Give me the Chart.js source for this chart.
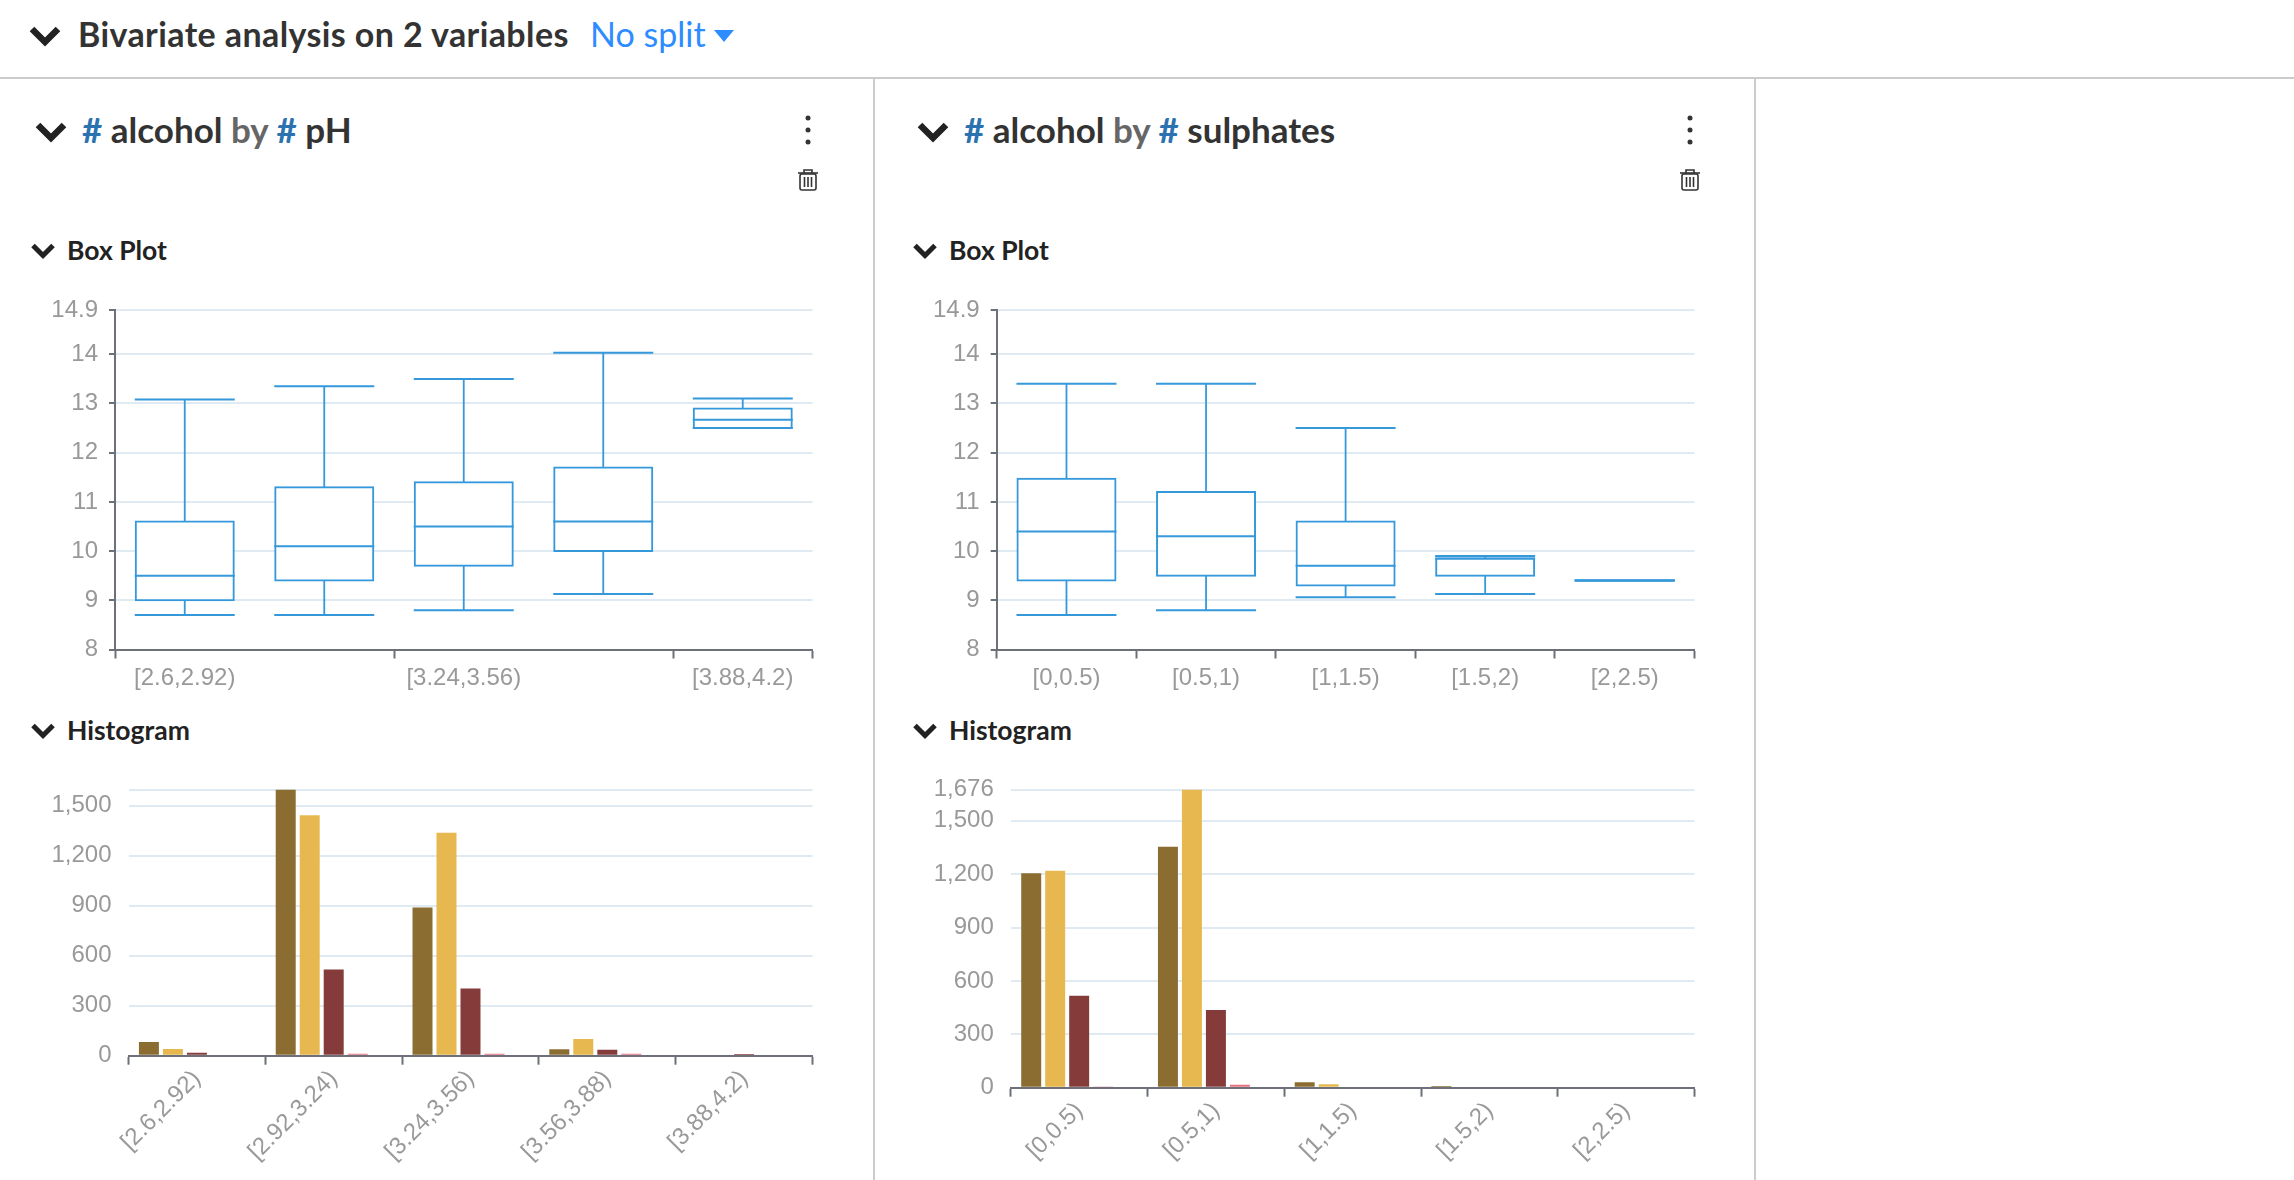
<!DOCTYPE html>
<html>
<head>
<meta charset="utf-8">
<script src="https://cdn.jsdelivr.net/npm/chart.js"></script>
<style>
  html, body { margin: 0; padding: 0; background: #fff; }
  body { width: 2294px; height: 1180px; position: relative; overflow: hidden; font-family: Lato, "Noto Sans", sans-serif; color: #333; }
  .abs { position: absolute; white-space: nowrap; }
  canvas { position: absolute; }
  .hline { position: absolute; left: 0; top: 77px; width: 2294px; height: 2px; background: #ccc; }
  .vline { position: absolute; top: 78px; width: 2px; height: 1102px; background: #ccc; }
  .main { font-size: 34px; letter-spacing: 0.4px; font-weight: 700; line-height: 40px; top: 14px; color: #333; }
  .split { font-size: 34px; line-height: 40px; top: 14px; color: #2d8cff; font-weight: 400; }
  .title { font-size: 35px; font-weight: 700; line-height: 40px; top: 109px; color: #333; }
  .title .h { color: #2b73b0; }
  .title .by { color: #666; }
  .sub { font-size: 26.5px; font-weight: 700; line-height: 30px; color: #222; }
</style>
</head>
<body>
<div class="hline"></div>
<div class="vline" style="left:873px"></div>
<div class="vline" style="left:1754px"></div>

<svg class="abs" style="left:0;top:0" width="2294" height="300">
  <defs>
    <g id="chev"><polyline points="-13,-6 0,7 13,-6" fill="none" stroke="#222" stroke-width="6.5"/></g>
    <g id="chevS"><polyline points="-10,-4.5 0,5.5 10,-4.5" fill="none" stroke="#222" stroke-width="5"/></g>
    <g id="trash" fill="none" stroke="#333" stroke-width="1.6">
      <rect x="-8" y="-6" width="16" height="16" rx="2"/>
      <line x1="-10" y1="-7" x2="10" y2="-7"/>
      <path d="M-4,-7 V-10 H4 V-7"/>
      <line x1="-3.5" y1="-3" x2="-3.5" y2="7"/><line x1="0" y1="-3" x2="0" y2="7"/><line x1="3.5" y1="-3" x2="3.5" y2="7"/>
    </g>
    <g id="dots" fill="#333"><circle cy="-12" r="2.5"/><circle r="2.5"/><circle cy="12" r="2.5"/></g>
  </defs>
  <use href="#chev" x="45" y="35"/>
  <polygon points="714,30 734,30 724,42" fill="#2d8cff"/>
  <use href="#chev" x="51" y="131"/>
  <use href="#dots" x="808" y="130"/>
  <use href="#trash" x="808" y="180"/>
  <use href="#chevS" x="43" y="250"/>
  <use href="#chev" x="933" y="131"/>
  <use href="#dots" x="1690" y="130"/>
  <use href="#trash" x="1690" y="180"/>
  <use href="#chevS" x="925" y="250"/>
</svg>
<svg class="abs" style="left:0;top:715px" width="2294" height="30">
  <use href="#chevS" x="43" y="15"/>
  <use href="#chevS" x="925" y="15"/>
</svg>

<div class="abs main" style="left:78px">Bivariate analysis on 2 variables</div>
<div class="abs split" style="left:590px">No split</div>
<div class="abs title" style="left:82px"><span class="h">#</span> alcohol <span class="by">by</span> <span class="h">#</span> pH</div>
<div class="abs title" style="left:964px"><span class="h">#</span> alcohol <span class="by">by</span> <span class="h">#</span> sulphates</div>
<div class="abs sub" style="left:67px;top:235px">Box Plot</div>
<div class="abs sub" style="left:949px;top:235px">Box Plot</div>
<div class="abs sub" style="left:67px;top:715px">Histogram</div>
<div class="abs sub" style="left:949px;top:715px">Histogram</div>

<canvas id="boxPh" width="860" height="420" style="left:0;top:290px"></canvas>
<canvas id="boxSul" width="860" height="420" style="left:881px;top:290px"></canvas>
<canvas id="histPh" width="860" height="410" style="left:0;top:770px"></canvas>
<canvas id="histSul" width="860" height="410" style="left:881px;top:770px"></canvas>

<script>
// values
const phBins = ['[2.6,2.92)', '[2.92,3.24)', '[3.24,3.56)', '[3.56,3.88)', '[3.88,4.2)'];
const sulBins = ['[0,0.5)', '[0.5,1)', '[1,1.5)', '[1.5,2)', '[2,2.5)'];

const boxTicks = [8, 9, 10, 11, 12, 13, 14, 14.9];

const phMin = [8.7, 8.7, 8.8, 9.13, 12.5];
const phQ1 = [9.0, 9.4, 9.7, 10.0, 12.5];
const phMed = [9.5, 10.1, 10.5, 10.6, 12.67];
const phQ3 = [10.6, 11.3, 11.4, 11.7, 12.9];
const phMax = [13.08, 13.35, 13.5, 14.03, 13.1];

const sulMin = [8.7, 8.8, 9.06, 9.13, 9.4];
const sulQ1 = [9.4, 9.5, 9.3, 9.5, 9.4];
const sulMed = [10.4, 10.3, 9.7, 9.85, 9.4];
const sulQ3 = [11.47, 11.2, 10.6, 9.85, 9.4];
const sulMax = [13.4, 13.4, 12.5, 9.9, 9.4];

const phHistTicks = [0, 300, 600, 900, 1200, 1500, 1598];
const phHistLabels = ['0', '300', '600', '900', '1,200', '1,500', ''];
const sulHistTicks = [0, 300, 600, 900, 1200, 1500, 1676];
const sulHistLabels = ['0', '300', '600', '900', '1,200', '1,500', '1,676'];

const phCount1 = [82, 1598, 890, 38, 0];
const phCount2 = [40, 1444, 1338, 100, 0];
const phCount3 = [18, 518, 404, 36, 10];
const phCount4 = [0, 12, 12, 12, 0];
const phCount5 = [0, 0, 0, 0, 0];

const sulCount1 = [1205, 1354, 30, 9, 0];
const sulCount2 = [1220, 1676, 19, 0, 0];
const sulCount3 = [517, 437, 6, 0, 0];
const sulCount4 = [4, 16, 0, 0, 0];
const sulCount5 = [0, 0, 0, 0, 0];

const blue = '#3498db';
const axisColor = '#6E7079';
const gridColor = '#E0EAF3';
const textColor = '#999';
const tickFont = { family: '"Liberation Sans", Arial, sans-serif', size: 24 };
const histColors = ['#8B6D31', '#E6B84F', '#843B3A', '#E5707F', '#A9C7E0'];

function setTicks(list) {
  return function (scale) { scale.ticks = list.map(v => ({ value: v })); };
}

// the plot area is fixed by hand, so the labels must not add padding to it
function fixSize(scale, prop, size) {
  scale[prop] = size;
  scale.paddingTop = scale.paddingBottom = scale.paddingLeft = scale.paddingRight = 0;
}

function xAxis(labels, step, rotated, height) {
  return {
    type: 'category',
    offset: true,
    grid: {
      offset: true,
      drawOnChartArea: false,
      tickLength: 9,
      tickWidth: 2,
      tickColor: c => (c.index === undefined || c.index % step === 0) ? axisColor : 'rgba(0,0,0,0)'
    },
    border: { display: true, color: axisColor, width: 2, z: 1 },
    ticks: {
      autoSkip: false,
      color: textColor,
      font: tickFont,
      padding: rotated ? 0 : 5,
      minRotation: rotated ? 45 : 0,
      maxRotation: rotated ? 45 : 0,
      callback: (v, i) => i % step === 0 ? labels[i] : ''
    },
    afterFit: s => fixSize(s, 'height', height)
  };
}

function boxChart(id, labels, step, mins, q1s, meds, q3s, maxs, leftWidth, rightPad) {
  const caps = (vals, order) => ({
    type: 'line', data: vals, showLine: false, order: order,
    pointStyle: 'line', pointRadius: 50, pointBorderWidth: 2, pointBorderColor: blue, pointHoverRadius: 50
  });
  new Chart(document.getElementById(id), {
    data: {
      labels: labels,
      datasets: [
        // whisker stem, then the box on top of it
        { type: 'bar', data: mins.map((v, i) => [v, maxs[i]]), order: 6, grouped: false, barThickness: 1.8, backgroundColor: blue, inflateAmount: 0 },
        { type: 'bar', data: q1s.map((v, i) => [v, q3s[i]]), order: 5, grouped: false, barThickness: 98, inflateAmount: 1,
          backgroundColor: '#fff', borderColor: blue, borderWidth: 2, borderSkipped: false },
        caps(meds, 3),
        caps(mins, 2),
        caps(maxs, 1)
      ]
    },
    options: {
      responsive: false,
      animation: false,
      layout: { autoPadding: false, padding: { top: 20, right: rightPad, bottom: 0, left: 0 } },
      plugins: { legend: { display: false }, tooltip: { enabled: false } },
      scales: {
        x: xAxis(labels, step, false, 60.5),
        y: {
          min: 8, max: 14.9,
          afterBuildTicks: setTicks(boxTicks),
          grid: { color: gridColor, lineWidth: 2, tickColor: axisColor, tickLength: 6, tickWidth: 2 },
          border: { display: true, color: axisColor, width: 2 },
          ticks: { autoSkip: false, color: textColor, font: tickFont, padding: 11, callback: v => String(v) },
          afterFit: s => fixSize(s, 'width', leftWidth)
        }
      }
    }
  });
}

function histChart(id, labels, series, tickVals, tickLabels, leftWidth, rightPad, xHeight) {
  new Chart(document.getElementById(id), {
    type: 'bar',
    data: {
      labels: labels,
      datasets: series.map((vals, i) => ({
        data: vals, backgroundColor: histColors[i], barPercentage: 0.833, categoryPercentage: 0.877
      }))
    },
    options: {
      responsive: false,
      animation: false,
      layout: { autoPadding: false, padding: { top: 19.5, right: rightPad, bottom: 0, left: 0 } },
      plugins: { legend: { display: false }, tooltip: { enabled: false } },
      scales: {
        x: xAxis(labels, 1, true, xHeight),
        y: {
          min: 0, max: tickVals[tickVals.length - 1],
          afterBuildTicks: setTicks(tickVals),
          grid: { color: gridColor, lineWidth: 2, drawTicks: false },
          border: { display: false },
          ticks: {
            autoSkip: false, color: textColor, font: tickFont, padding: 17,
            callback: (v, i) => tickLabels[i]
          },
          afterFit: s => fixSize(s, 'width', leftWidth)
        }
      }
    }
  });
}

boxChart('boxPh', phBins, 2, phMin, phQ1, phMed, phQ3, phMax, 115, 47.5);
boxChart('boxSul', sulBins, 1, sulMin, sulQ1, sulMed, sulQ3, sulMax, 115.7, 46.5);
histChart('histPh', phBins, [phCount1, phCount2, phCount3, phCount4, phCount5], phHistTicks, phHistLabels, 128.5, 47.5, 124.3);
histChart('histSul', sulBins, [sulCount1, sulCount2, sulCount3, sulCount4, sulCount5], sulHistTicks, sulHistLabels, 129.8, 46.5, 92.3);
</script>
</body>
</html>
